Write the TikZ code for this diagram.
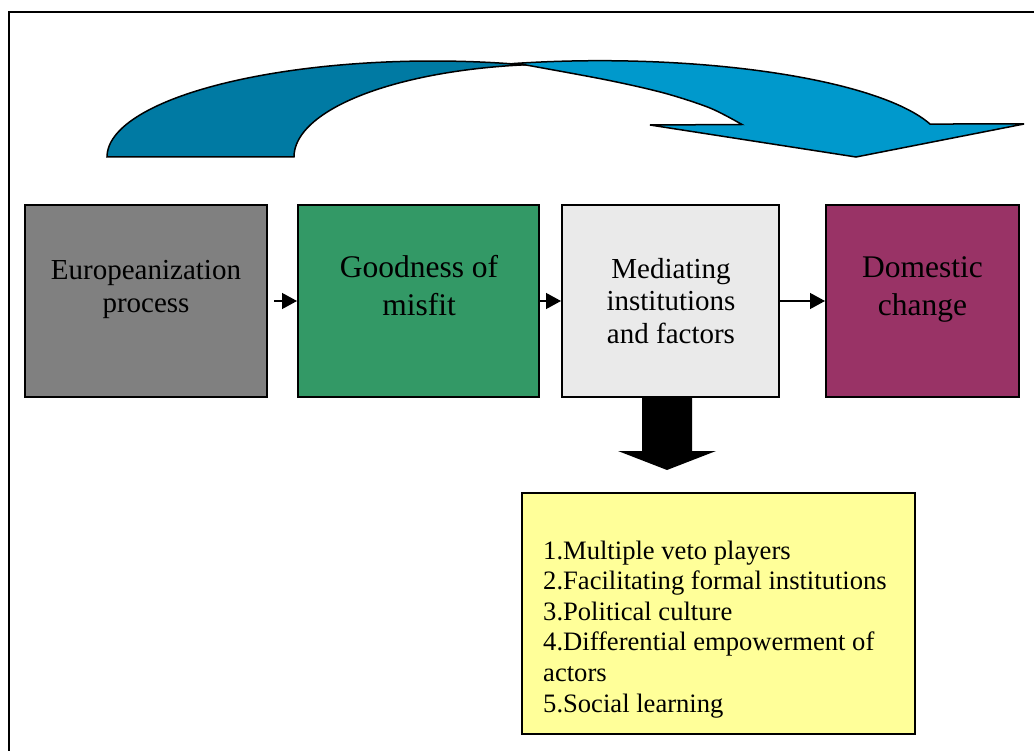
\documentclass[tikz,border=0pt]{standalone}
\usepackage{fontspec}
\setmainfont{Liberation Serif}
\usetikzlibrary{arrows.meta}
\definecolor{eugray}{HTML}{808080}
\definecolor{misgreen}{HTML}{339966}
\definecolor{medgray}{HTML}{EAEAEA}
\definecolor{dommag}{HTML}{993366}
\definecolor{listyel}{HTML}{FFFF99}
\definecolor{arcdark}{HTML}{007AA3}
\definecolor{arclight}{HTML}{0099CC}
\begin{document}
\begin{tikzpicture}[x=1pt,y=-1pt,
  box/.style={draw=black, line width=2pt, minimum height=192pt, inner sep=0pt},
  lbl/.style={inner sep=0pt, align=center, anchor=base},
  fsmall/.style={font={\fontsize{29}{32.5}\selectfont}},
  fbig/.style={font={\fontsize{31.5}{38}\selectfont}},
  flow/.style={-{Triangle[length=15pt,width=16pt]}, line width=1.3pt},
  band/.style={line width=1.5pt, draw=black}]
\useasboundingbox (0,0) rectangle (1034,751);
% frame (only top and left edges visible)
\draw[line width=2pt] (9,752) -- (9,12) -- (1035,12);

% curved arrow: back band (dark)
\filldraw[band, fill=arcdark]
  plot[variable=\t, domain=180:74, samples=70] ({433+326*cos(\t)},{157-96*sin(\t)})
  -- plot[variable=\t, domain=97.3:180, samples=70] ({560+266*cos(\t)},{157-93*sin(\t)})
  -- cycle;
% curved arrow: front band with head (light)
\filldraw[band, fill=arclight]
  plot[variable=\t, domain=104.8:16.3, samples=70] ({600+343.8*cos(\t)},{148.7-88*sin(\t)})
  -- (1024,124) -- (856,157) -- (650,125) -- (742,124.5)
  -- plot[smooth] coordinates {(742,124.5) (710,108) (664,93) (607,80) (526,65)}
  -- plot[variable=\t, domain=74:76, samples=6] ({433+326*cos(\t)},{157-96*sin(\t)})
  -- cycle;

% boxes
\node[box, fill=eugray,   minimum width=242pt] (eu)  at (146,301)   {};
\node[box, fill=misgreen, minimum width=241pt] (gm)  at (418.5,301) {};
\node[box, fill=medgray,  minimum width=217pt] (med) at (670.5,301) {};
\node[box, fill=dommag,   minimum width=193pt] (dom) at (922.5,301) {};

% labels (base anchor = baseline of last line)
\node[lbl, fsmall] (eut)  at (146,312.5) {Europeanization\\process};
\node[lbl, fbig]   (gmt)  at (419,316)   {Goodness of\\misfit};
\node[lbl, fsmall] (medt) at (671,343.5) {Mediating\\institutions\\and factors};
\node[lbl, fbig]   (domt) at (922.5,316) {Domestic\\change};

% connectors
\draw[flow, shorten <=6pt] (eu.east) -- (gm.west);
\draw[flow] (gm.east) -- (med.west);
\draw[flow] (med.east) -- (dom.west);

% block arrow down
\fill[black] (642,397) -- (692,397) -- (692,451) -- (716,451) -- (667,470)
  -- (618,451) -- (642,451) -- cycle;

% list box
\node[draw=black, line width=1.5pt, fill=listyel, minimum width=393pt,
  minimum height=241pt, inner sep=0pt] (lst) at (718.5,613.5) {};
\node[inner sep=0pt, align=left, anchor=base west,
  font={\fontsize{26.6}{30.6}\selectfont}] (lstt) at (543,712)
  {1.Multiple veto players\\2.Facilitating formal institutions\\3.Political culture\\4.Differential empowerment of\\actors\\5.Social learning};
\end{tikzpicture}
\end{document}
